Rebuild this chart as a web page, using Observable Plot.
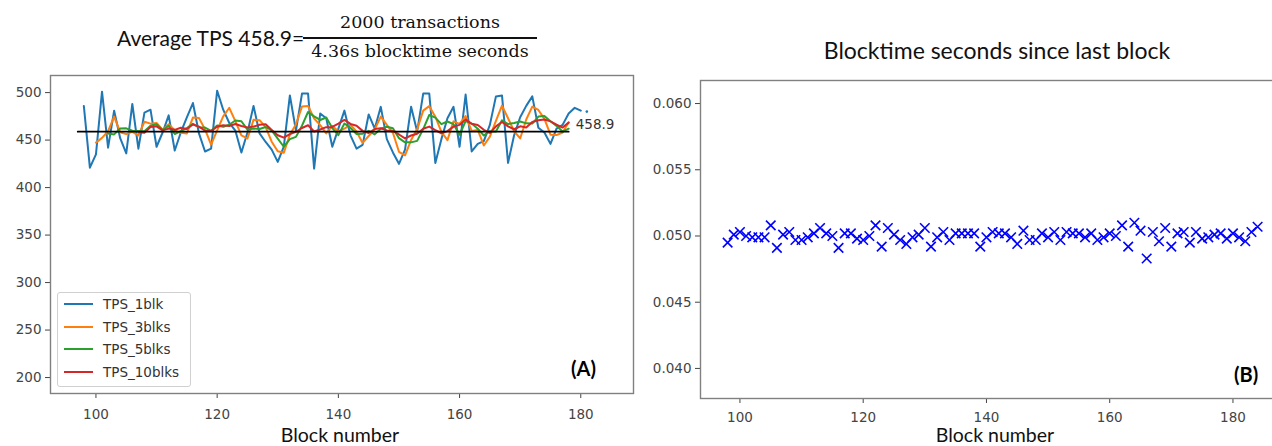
<!DOCTYPE html>
<html><head><meta charset="utf-8">
<script src="https://cdn.jsdelivr.net/npm/d3@7"></script>
<script src="https://cdn.jsdelivr.net/npm/@observablehq/plot@0.6"></script>
<style>
body{margin:0;background:#fff;}
#root{position:relative;width:1272px;height:446px;overflow:hidden;background:#fff;}
.abs{position:absolute;white-space:nowrap;}
.ttl{font-family:Lato,"Open Sans",sans-serif;color:#111;}
.frac{font-family:"DejaVu Serif",serif;font-size:17.5px;color:#111;text-align:center;line-height:18px;}
.lg{font-family:"DejaVu Sans",sans-serif;font-size:13.5px;color:#333;line-height:16px;}
</style></head><body><div id="root"></div>
<script>
// ---- data ----
const xTicks = [100, 120, 140, 160, 180];
const tpsTicks = [200, 250, 300, 350, 400, 450, 500];
const btTicks = [0.040, 0.045, 0.050, 0.055, 0.060];

const tps1Start = 98;
const tps1blk = [486,421,435,501,442,481,452,436,488,441,479,482,443,458,
  476,439,458,474,489,457,438,441,502,482,468,460,437,458,
  486,457,448,440,427,443,497,460,499,499,420,478,473,443,462,481,455,441,445,477,462,485,451,437,425,440,485,459,499,499,426,451,473,485,443,498,438,446,449,466,496,497,426,455,474,486,496,463,458,446,462,466,478,484,481];
const tps1Tail = [{block: 181, tps: 480}];

const tps3Start = 100;
const tps3blks = [447.3,452.3,459.3,474.7,458.3,456.3,458.7,455,469.3,467.3,468,461,
  466.7,460.3,457.7,457,473.7,473.3,461.3,445.3,460.3,475,484,470,455,451.7,
  471.3,471,463.7,448.3,438.3,436.7,455.7,466.7,485.3,486,472.7,465.7,457,464.7,459.3,462,466,459,447,454.3,461.3,474.7,466,457.7,437.7,434,450,461.3,481,485.7,474.7,458.7,450,469.7,467,475.3,459.7,460.7,444.3,453.7,470.3,486.3,473,459.3,451.7,471.7,485.3,481.7,472.3,455.7,455.3,458,468.7];

const tps5Start = 102;
const tps5blks = [457,456,462.2,462.4,459.8,459.6,459.2,465.2,466.6,460.6,
  465,456.4,459.4,462.6,467.2,463.4,463.2,459.8,465.4,464,466.2,470.6,469.8,461,
  462.2,461.6,463.8,460.2,451.6,443,451,453.4,465.2,479.6,475,471.2,473.8,462.6,455.2,467.4,462.8,456.4,456.8,459.8,456,462,464,462.4,452,447.6,447.6,449.2,461.6,476.4,473.6,466.8,469.6,466.8,455.6,470,467.4,462,454.8,459.4,459,470.8,466.8,468,469.6,467.6,467.4,474.8,475.4,469.8,465,459,462];

const tps10Start = 107;
const tps10blks = [458.3,457.6,463.7,464.5,460.2,
  462.1,460.8,463,461.6,466.4,464.2,459.8,459.6,464,465.6,464.8,466.9,464.8,463.2,
  464.2,466.1,466.8,460.6,455.1,452.6,456.3,458.6,462.7,465.6,459,461.1,463.6,463.9,467.4,471.2,467,465.1,459.7,457.5,461.7,462.4,460.2,459.6,455.9,451.8,454.8,456.6,462,464.2,460.6,457.2,459.4,464.2,466,471.8,467.1,465.8,460.8,457.5,464.5,469.1,464.4,461.4,464.5,463.3,469.1,470.8,471.7,469.7,466.3,463.2,468.4];

const avgTPS = 458.9;
const avgBlocks = [97, 178];

const btStart = 98;
const blocktime = [0.0495,0.0501,0.0503,0.0500,0.0499,0.0499,0.0499,0.0508,0.0491,0.0501,
  0.0503,0.0497,0.0497,0.0499,0.0502,0.0506,0.0502,0.0500,0.0491,0.0502,
  0.0502,0.0498,0.0497,0.0500,0.0508,0.0492,0.0506,0.0501,0.0497,0.0494,
  0.0499,0.0501,0.0506,0.0492,0.0499,0.0503,0.0497,0.0502,0.0502,0.0502,
  0.0502,0.0492,0.0499,0.0503,0.0502,0.0502,0.0499,0.0494,0.0504,0.0497,
  0.0497,0.0502,0.0499,0.0503,0.0497,0.0503,0.0502,0.0502,0.0499,0.0502,
  0.0497,0.0499,0.0502,0.0500,0.0508,0.0492,0.0510,0.0504,0.0483,0.0503,
  0.0496,0.0506,0.0492,0.0502,0.0503,0.0495,0.0503,0.0498,0.0499,0.0501,
  0.0502,0.0498,0.0502,0.0499,0.0496,0.0503,0.0507];

const seriesNames = ["TPS_1blk", "TPS_3blks", "TPS_5blks", "TPS_10blks"];
const seriesColors = ["#1f77b4", "#ff7f0e", "#2ca02c", "#d62728"];

// ---- build ----
const rows = (start, vals, key) => vals.map((v, i) => ({block: start + i, [key]: v}));
const r1 = rows(tps1Start, tps1blk, "tps");
const r3 = rows(tps3Start, tps3blks, "tps");
const r5 = rows(tps5Start, tps5blks, "tps");
const r10 = rows(tps10Start, tps10blks, "tps");
const rAvg = avgBlocks.map(b => ({block: b, tps: avgTPS}));
const rBt = rows(btStart, blocktime, "bt");

const root = document.getElementById("root");
const baseStyle = {fontFamily: "'DejaVu Sans', sans-serif", fontSize: "13.5px", color: "#444", background: "transparent", overflow: "visible"};

const left = Plot.plot({
  width: 640, height: 446,
  marginLeft: 50, marginRight: 7, marginTop: 75, marginBottom: 53,
  style: baseStyle,
  x: {domain: [92.5, 188.7], ticks: xTicks, tickSize: 5, tickPadding: 11, label: null},
  y: {domain: [183.2, 518], ticks: tpsTicks, tickSize: 5, tickPadding: 4, label: null},
  marks: [
    Plot.line(r1, {x: "block", y: "tps", stroke: seriesColors[0], strokeWidth: 2}),
    Plot.dot(tps1Tail, {x: "block", y: "tps", r: 1.3, fill: seriesColors[0]}),
    Plot.line(r3, {x: "block", y: "tps", stroke: seriesColors[1], strokeWidth: 2}),
    Plot.line(r5, {x: "block", y: "tps", stroke: seriesColors[2], strokeWidth: 2}),
    Plot.line(r10, {x: "block", y: "tps", stroke: seriesColors[3], strokeWidth: 2}),
    Plot.line(rAvg, {x: "block", y: "tps", stroke: "#000", strokeWidth: 1.8}),
    Plot.text([avgTPS], {x: avgBlocks[1] + 1, y: d => d, text: d => d.toFixed(1), textAnchor: "start", dx: 1, dy: -7, fill: "#333", fontSize: 13.5}),
    Plot.frame({stroke: "#808080", strokeWidth: 1.4})
  ]
});
left.style.position = "absolute"; left.style.left = "0px"; left.style.top = "0px";
root.appendChild(left);

const right = Plot.plot({
  width: 650, height: 446,
  marginLeft: 50, marginRight: 17, marginTop: 80, marginBottom: 48,
  style: baseStyle,
  x: {domain: [93.6, 188.2], ticks: xTicks, tickSize: 5, tickPadding: 9, label: null},
  y: {domain: [0.03773, 0.06174], ticks: btTicks, tickFormat: d3.format(".3f"), tickSize: 5, tickPadding: 4, label: null},
  marks: [
    Plot.dot(rBt, {x: "block", y: "bt", symbol: "times", r: 4.4, stroke: "#0000ff", strokeWidth: 1.6}),
    Plot.frame({stroke: "#808080", strokeWidth: 1.4})
  ]
});
right.style.position = "absolute"; right.style.left = "650px"; right.style.top = "0px";
root.appendChild(right);

function addDiv(cls, text, css) {
  const d = document.createElement("div");
  d.className = "abs " + cls;
  d.textContent = text;
  Object.assign(d.style, css);
  root.appendChild(d);
  return d;
}
// titles
addDiv("ttl", "Average TPS " + avgTPS.toFixed(1) + "=", {left: "117px", top: "27px", fontSize: "21px", lineHeight: "21px"});
addDiv("frac", "2000 transactions", {left: "303px", top: "13px", width: "234px"});
addDiv("", "", {left: "303px", top: "37px", width: "234px", height: "1.5px", background: "#111"});
addDiv("frac", "4.36s blocktime seconds", {left: "303px", top: "42px", width: "234px"});
addDiv("ttl", "Blocktime seconds since last block", {left: "797px", top: "39px", width: "400px", textAlign: "center", fontSize: "23px", lineHeight: "23px"});
addDiv("ttl", "Block number", {left: "240px", top: "425px", width: "200px", textAlign: "center", fontSize: "19.5px", lineHeight: "20px"});
addDiv("ttl", "Block number", {left: "895px", top: "425px", width: "200px", textAlign: "center", fontSize: "19.5px", lineHeight: "20px"});
addDiv("ttl", "(A)", {left: "571px", top: "358px", fontSize: "20px", fontWeight: "bold", lineHeight: "20px", color: "#000"});
addDiv("ttl", "(B)", {left: "1234px", top: "364px", fontSize: "20px", fontWeight: "bold", lineHeight: "20px", color: "#000"});

// legend
addDiv("", "", {left: "57px", top: "292px", width: "132px", height: "93px", border: "1px solid #d0d0d0", borderRadius: "3px", background: "rgba(255,255,255,0.8)"});
seriesNames.forEach((name, i) => {
  const cy = 304 + i * 22.5;
  addDiv("", "", {left: "64px", top: (cy - 1) + "px", width: "29px", height: "2px", background: seriesColors[i]});
  addDiv("lg", name, {left: "103px", top: (cy - 8) + "px"});
});
</script>
</body></html>
